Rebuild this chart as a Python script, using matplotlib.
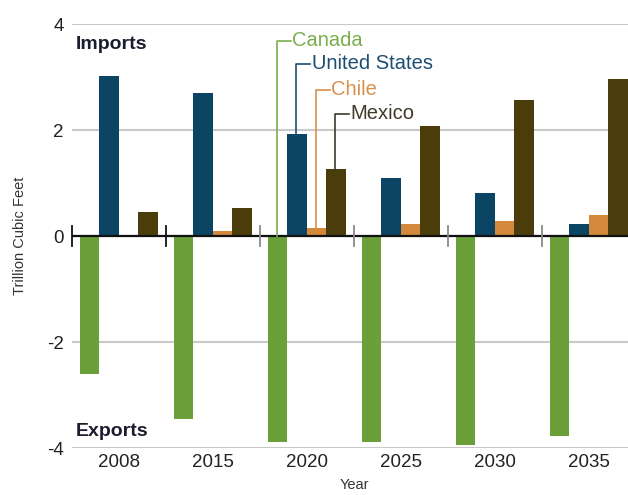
import numpy as np
import matplotlib.pyplot as plt

plt.rcParams['font.family'] = ['Liberation Sans', 'DejaVu Sans']

# Data (trillion cubic feet, imports positive, exports negative)
years = ['2008', '2015', '2020', '2025', '2030', '2035']
canada = [-2.61, -3.45, -3.88, -3.88, -3.94, -3.77]
united_states = [3.02, 2.70, 1.93, 1.09, 0.81, 0.23]
chile = [0.01, 0.09, 0.145, 0.23, 0.29, 0.40]
mexico = [0.46, 0.52, 1.27, 2.07, 2.56, 2.96]

series = [
    ('Canada', canada, '#6b9f3a', '#7aae4c'),
    ('United States', united_states, '#0b4563', '#1d4f70'),
    ('Chile', chile, '#d3883b', '#d8904c'),
    ('Mexico', mexico, '#4a3d0b', '#3f3a2a'),
]

fig = plt.figure(figsize=(6.28, 4.95), dpi=100)
ax = fig.add_axes([0.1146, 0.0949, 0.898, 0.8566])

n = len(years)
x = np.arange(n)
pad = 0.085
bw = 0.207

bar_pos = {}
for k, (name, vals, color, tcolor) in enumerate(series):
    pos = x + pad + bw * (k + 0.5)
    bar_pos[name] = pos
    ax.bar(pos, vals, width=bw, color=color, zorder=3)

ax.set_xlim(0, n)
ax.set_ylim(-4, 4)
ax.set_yticks([-4, -2, 0, 2, 4])
ax.set_yticklabels(['-4', '-2', '0', '2', '4'])
ax.set_xticks(x + 0.5)
ax.set_xticklabels(years)
ax.tick_params(length=0, labelsize=13.5, colors='#222222', pad=6)
ax.tick_params(axis='x', pad=4)

for s in ax.spines.values():
    s.set_visible(False)

ax.yaxis.grid(True, color='#c9c9c9', linewidth=1.5, zorder=0)
ax.axhline(0, color='#111111', linewidth=1.6, zorder=4)

# group separators on zero line
for i in range(n):
    ax.plot([i, i], [-0.18, 0.18], color='#111111' if i < 2 else '#888888',
            linewidth=1.3, zorder=5, clip_on=False)

ax.set_ylabel('Trillion Cubic Feet', fontsize=10.5, color='#333333', labelpad=14)
ax.set_xlabel('Year', fontsize=10.5, color='#333333', labelpad=5)

ax.text(0.04, 3.62, 'Imports', fontsize=14, fontweight='bold', color='#1c1c30',
        va='center', ha='left')
ax.text(0.04, -3.68, 'Exports', fontsize=14, fontweight='bold', color='#1c1c30',
        va='center', ha='left')

# leader labels on 2020 group
gi = 2
label_y = [3.68, 3.25, 2.76, 2.31]
for k, (name, vals, color, tcolor) in enumerate(series):
    lx = bar_pos[name][gi] - 0.01
    bottom = max(vals[gi], 0)
    ly = label_y[k]
    ax.plot([lx, lx, lx + 0.15], [bottom, ly, ly], color=tcolor,
            linewidth=1.2, zorder=6)
    ax.text(lx + 0.165, ly, name, fontsize=14.5, color=tcolor,
            va='center', ha='left', zorder=6)

fig.savefig('out.png', dpi=100)
